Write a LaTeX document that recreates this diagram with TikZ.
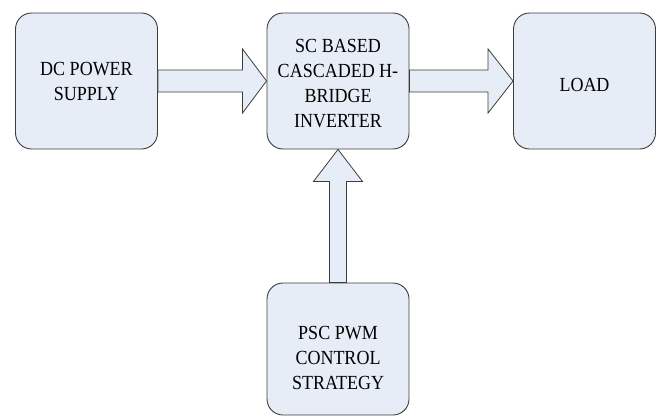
\documentclass[tikz,border=0pt]{standalone}
\usepackage{fontspec}
\setmainfont{Liberation Serif}[FakeStretch=0.9]
\usetikzlibrary{calc}
\definecolor{boxfill}{HTML}{E7EDF7}
\definecolor{boxline}{HTML}{3C3C3C}
\tikzset{
  block/.style={draw=boxline, fill=boxfill, line width=0.9pt, rounded corners=16pt,
    minimum width=142pt, minimum height=136pt},
  blocktext/.style={align=center, inner sep=0pt, font=\fontsize{20}{25}\selectfont},
  flow/.style={draw=boxline, fill=boxfill, line width=0.8pt, line join=miter}
}
\begin{document}
\begin{tikzpicture}[x=1pt,y=-1pt]
  \useasboundingbox (0,0) rectangle (659,418);
  % blocks, each with its caption set at the centre
  \node[block, label={[blocktext]center:DC POWER\\SUPPLY}] (dc) at (86.5,81) {};
  \node[block, label={[blocktext, yshift=-2.5pt]center:SC BASED\\CASCADED H-\\BRIDGE\\INVERTER}] (inv) at (338,81) {};
  \node[block, label={[blocktext, yshift=-4pt]center:LOAD}] (load) at (584.5,81) {};
  \node[block, minimum height=132pt,
        label={[blocktext, yshift=-8.5pt]center:PSC PWM\\CONTROL\\STRATEGY}] (ctrl) at (338,349) {};
  % block arrows
  \draw[flow] ($(dc.east)+(0,-11)$) -- ($(inv.west)+(-24,-11)$) -- ($(inv.west)+(-24,-32)$)
    -- (inv.west) -- ($(inv.west)+(-24,32)$) -- ($(inv.west)+(-24,11)$)
    -- ($(dc.east)+(0,11)$) -- cycle;
  \draw[flow] ($(inv.east)+(0,-11)$) -- ($(load.west)+(-25,-11)$) -- ($(load.west)+(-25,-32)$)
    -- (load.west) -- ($(load.west)+(-25,32)$) -- ($(load.west)+(-25,11)$)
    -- ($(inv.east)+(0,11)$) -- cycle;
  \draw[flow] ($(ctrl.north)+(-8.5,0)$) -- ($(inv.south)+(-8.5,32)$) -- ($(inv.south)+(-24.5,32)$)
    -- (inv.south) -- ($(inv.south)+(24.5,32)$) -- ($(inv.south)+(8.5,32)$)
    -- ($(ctrl.north)+(8.5,0)$) -- cycle;
\end{tikzpicture}
\end{document}
